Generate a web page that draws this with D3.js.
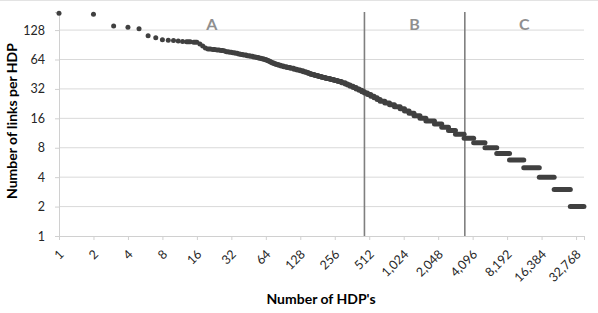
<!DOCTYPE html>
<html>
<head>
<meta charset="utf-8">
<script src="https://cdnjs.cloudflare.com/ajax/libs/d3/7.8.5/d3.min.js"></script>
<style>
  body { margin: 0; background: #fff; }
  text { font-family: Lato, "Open Sans", sans-serif; }
</style>
</head>
<body>
<div id="canvas"></div>
<script>
// links per HDP, one entry per group of HDPs sharing that value
const links = [190, 186, 141, 137, 132, 112, 107, 102, 101, 100, 99, 98,
  97, 96, 92, 88, 84, 82, 81, 80, 79, 78, 77, 76, 75, 74, 73, 72, 71, 70,
  69, 68, 67, 66, 65, 64, 63, 62, 61, 60, 59, 58, 57, 56, 55, 54, 53, 52,
  51, 50, 49, 48, 47, 46, 45, 44, 43, 42, 41, 40, 39, 38, 37, 36, 35, 34,
  33, 32, 31, 30, 29, 28, 27, 26, 25, 24, 23, 22, 21, 20, 19, 18, 17, 16,
  15, 14, 13, 12, 11, 10, 9, 8, 7, 6, 5, 4, 3, 2];
// rank of the last HDP in each group
const lastRank = [1, 2, 3, 4, 5, 6, 7, 8, 9, 10, 11, 12,
  14, 16, 17, 18, 19, 21, 23, 25, 27, 28, 30, 32, 34, 36, 38, 40, 43, 46,
  49, 52, 55, 58, 61, 64, 66, 68, 70, 72, 75, 78, 82, 86, 91, 97, 104, 112,
  119, 127, 135, 143, 150, 158, 170, 183, 197, 213, 233, 252, 272, 293, 315, 331, 348, 370,
  393, 417, 441, 465, 494, 528, 564, 600, 637, 700, 770, 850, 953, 1040, 1140, 1260, 1420, 1600,
  1900, 2200, 2520, 2900, 3450, 4180, 5250, 6650, 8600, 11450, 15650, 21100, 29200, 38400];

const xTicks = [1, 2, 4, 8, 16, 32, 64, 128, 256, 512, 1024, 2048, 4096, 8192, 16384, 32768];
const yTicks = [1, 2, 4, 8, 16, 32, 64, 128];
const xMax = 38450;
const yMax = 196;
const boundaries = [465, 3500];
const regionNames = ["A", "B", "C"];

const width = 598;
const height = 313;
const margin = { top: 12, left: 59, bottom: 77, right: 14 };
const iwidth = width - margin.left - margin.right;
const iheight = height - margin.top - margin.bottom;

const svg = d3.select("#canvas").append("svg")
  .attr("width", width)
  .attr("height", height);

svg.append("line")
  .attr("x1", 0).attr("x2", width)
  .attr("y1", 0.5).attr("y2", 0.5)
  .attr("stroke", "#e3e3e3");

const g = svg.append("g").attr("transform", `translate(${margin.left},${margin.top})`);

const x = d3.scaleLog().base(2).domain([1, xMax]).range([0, iwidth]);
const y = d3.scaleLog().base(2).domain([1, yMax]).range([iheight, 0]);

// gridlines
g.append("g").selectAll("line").data(yTicks.slice(1)).enter().append("line")
  .attr("x1", 0).attr("x2", iwidth)
  .attr("y1", d => y(d)).attr("y2", d => y(d))
  .attr("stroke", "#d9d9d9");

// axes
const fmt = d3.format(",");
const xAxis = g.append("g")
  .attr("transform", `translate(0,${iheight})`)
  .call(d3.axisBottom(x).tickValues(xTicks.concat([xMax])).tickSize(4)
    .tickFormat(d => d === xMax ? "" : fmt(d)));
xAxis.select(".domain").attr("stroke", "#d0d0d0");
xAxis.selectAll(".tick line").attr("stroke", "#d0d0d0");
xAxis.selectAll(".tick text")
  .attr("text-anchor", "end")
  .attr("y", 0).attr("dy", "0.35em")
  .attr("transform", "translate(2,16) rotate(-45)")
  .attr("fill", "#262626")
  .style("font-size", "12.5px");

const yAxis = g.append("g")
  .call(d3.axisLeft(y).tickValues(yTicks).tickSize(4).tickPadding(10).tickFormat(d3.format("d")));
yAxis.select(".domain").attr("stroke", "#d0d0d0");
yAxis.selectAll(".tick line").attr("stroke", "#d0d0d0");
yAxis.selectAll(".tick text")
  .attr("fill", "#262626")
  .style("font-size", "12.5px");

// region separators and labels
g.append("g").selectAll("line").data(boundaries).enter().append("line")
  .attr("x1", d => x(d)).attr("x2", d => x(d))
  .attr("y1", 0).attr("y2", iheight)
  .attr("stroke", "#7f7f7f")
  .attr("stroke-width", 1.6);

const edges = [1].concat(boundaries, [xMax]);
g.append("g").selectAll("text").data(regionNames).enter().append("text")
  .attr("x", (d, i) => (x(edges[i]) + x(edges[i + 1])) / 2)
  .attr("y", 17.5)
  .attr("text-anchor", "middle")
  .attr("fill", "#8f8f8f")
  .style("font-size", "16px")
  .style("font-weight", "bold")
  .text(d => d);

// points: each group of ranks with equal links drawn as merged dots
const groups = links.map((v, i) => ({
  links: v,
  first: i === 0 ? 1 : lastRank[i - 1] + 1,
  last: lastRank[i]
}));

const dots = g.append("g");
dots.selectAll("line").data(groups.filter(d => d.last > d.first)).enter().append("line")
  .attr("x1", d => x(d.first)).attr("x2", d => x(d.last))
  .attr("y1", d => y(d.links)).attr("y2", d => y(d.links))
  .attr("stroke", "#404040")
  .attr("stroke-width", 5)
  .attr("stroke-linecap", "round");
dots.selectAll("circle").data(groups.filter(d => d.last === d.first)).enter().append("circle")
  .attr("cx", d => x(d.first))
  .attr("cy", d => y(d.links))
  .attr("r", 2.5)
  .attr("fill", "#404040");

// titles
svg.append("text")
  .attr("x", 321)
  .attr("y", 304)
  .attr("text-anchor", "middle")
  .style("font-size", "14px")
  .style("font-weight", "bold")
  .text("Number of HDP's");

svg.append("text")
  .attr("transform", "translate(17,121) rotate(-90)")
  .attr("text-anchor", "middle")
  .style("font-size", "14px")
  .style("font-weight", "bold")
  .text("Number of links per HDP");
</script>
</body>
</html>
